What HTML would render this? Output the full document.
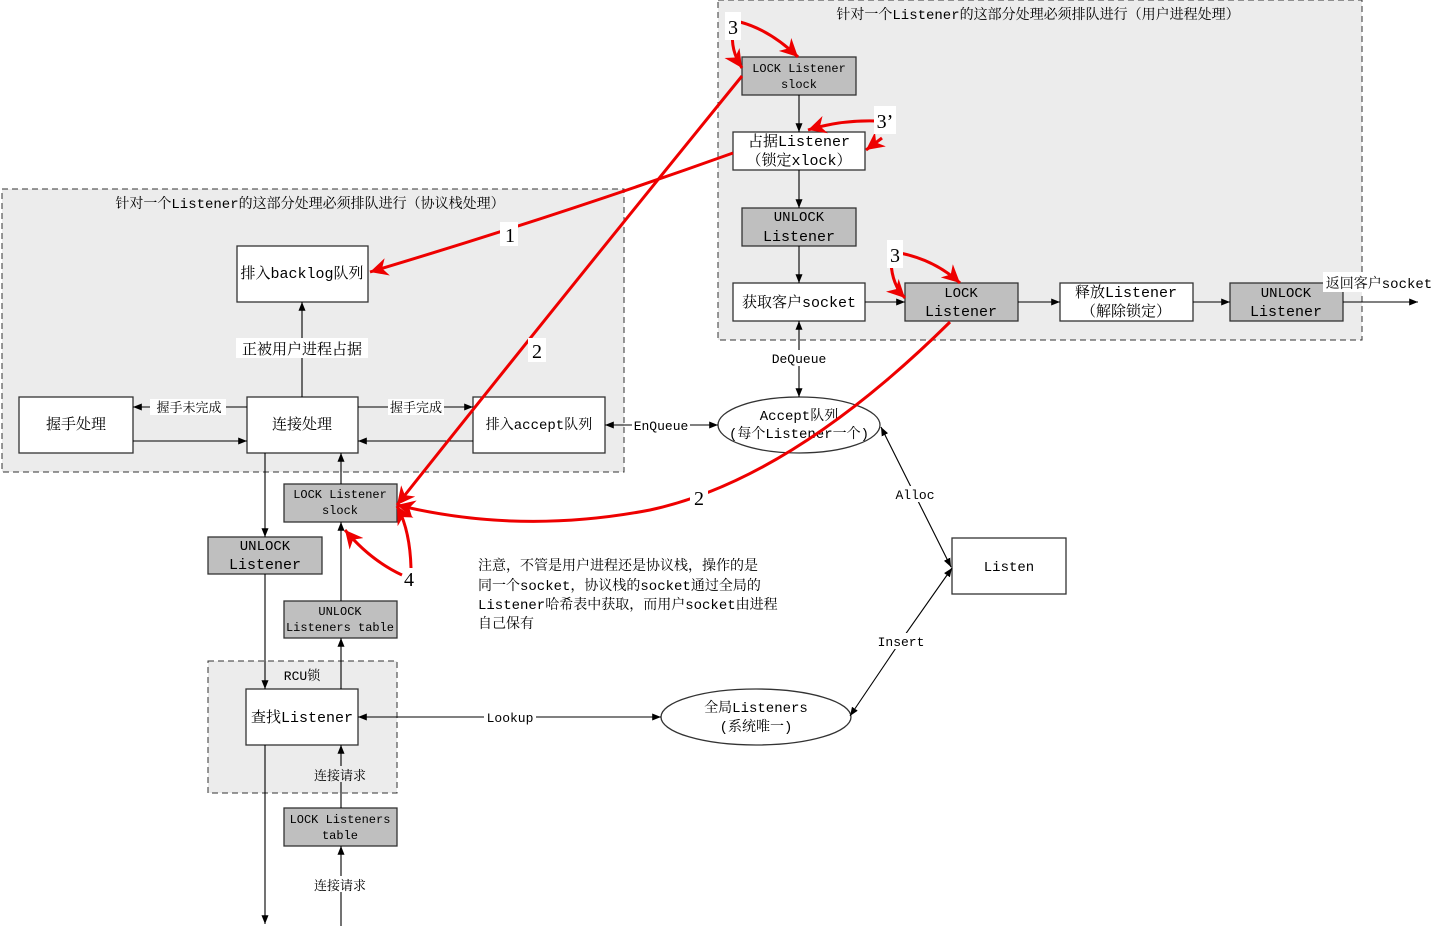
<!DOCTYPE html>
<html><head><meta charset="utf-8"><style>
html,body{margin:0;padding:0;background:#fff;}
svg{display:block;font-family:"Liberation Mono","Noto Serif CJK SC",serif;}
</style></head><body>
<svg width="1436" height="926" viewBox="0 0 1436 926" xmlns="http://www.w3.org/2000/svg">
<defs>
<marker id="a" viewBox="0 0 10 10" refX="10" refY="5" markerWidth="8" markerHeight="8" orient="auto-start-reverse"><path d="M0,1 L10,5 L0,9 z" fill="#000"/></marker>
<marker id="r" viewBox="0 0 10 10" refX="10" refY="5" markerWidth="6" markerHeight="6" orient="auto-start-reverse"><path d="M0,0 L10,5 L0,10 L3,5 z" fill="#e00"/></marker>
</defs>
<!-- regions -->
<rect x="718" y="0" width="644" height="340" fill="#ececec" stroke="#333" stroke-dasharray="6,4"/>
<rect x="2" y="189" width="622" height="283" fill="#ececec" stroke="#333" stroke-dasharray="6,4"/>
<rect x="208" y="661" width="189" height="132" fill="#ececec" stroke="#333" stroke-dasharray="6,4"/>
<g font-size="14" text-anchor="middle" fill="#000">
<text x="1038" y="19">针对一个Listener的这部分处理必须排队进行（用户进程处理）</text>
<text x="310" y="208">针对一个Listener的这部分处理必须排队进行（协议栈处理）</text>
<text x="302" y="680" font-size="13">RCU锁</text>
</g>
<!-- boxes -->
<g stroke="#333" stroke-width="1.3">
<rect x="742" y="57" width="114" height="38" fill="#bfbfbf"/>
<rect x="733" y="132" width="132" height="38" fill="#fff"/>
<rect x="742" y="208" width="114" height="38" fill="#bfbfbf"/>
<rect x="733" y="283" width="132" height="38" fill="#fff"/>
<rect x="905" y="283" width="113" height="38" fill="#bfbfbf"/>
<rect x="1060" y="283" width="133" height="38" fill="#fff"/>
<rect x="1230" y="283" width="113" height="38" fill="#bfbfbf"/>
<rect x="237" y="246" width="131" height="56" fill="#fff"/>
<rect x="19" y="397" width="114" height="56" fill="#fff"/>
<rect x="247" y="397" width="111" height="56" fill="#fff"/>
<rect x="473" y="397" width="132" height="56" fill="#fff"/>
<rect x="284" y="484" width="113" height="38" fill="#bfbfbf"/>
<rect x="208" y="537" width="114" height="37" fill="#bfbfbf"/>
<rect x="284" y="601" width="113" height="37" fill="#bfbfbf"/>
<rect x="246" y="689" width="112" height="56" fill="#fff"/>
<rect x="284" y="808" width="113" height="38" fill="#bfbfbf"/>
<rect x="952" y="538" width="114" height="56" fill="#fff"/>
<ellipse cx="799" cy="425" rx="81" ry="28" fill="#fff"/>
<ellipse cx="756" cy="717" rx="95" ry="28" fill="#fff"/>
</g>
<!-- black connectors -->
<g stroke="#000" stroke-width="1.1" fill="none" marker-end="url(#a)">
<line x1="799" y1="95" x2="799" y2="132"/>
<line x1="799" y1="170" x2="799" y2="208"/>
<line x1="799" y1="246" x2="799" y2="283"/>
<line x1="865" y1="302" x2="905" y2="302"/>
<line x1="1018" y1="302" x2="1060" y2="302"/>
<line x1="1193" y1="302" x2="1230" y2="302"/>
<line x1="1343" y1="302" x2="1418" y2="302"/>
<line x1="799" y1="360" x2="799" y2="321"/>
<line x1="799" y1="360" x2="799" y2="397"/>
<line x1="302" y1="397" x2="302" y2="302"/>
<line x1="247" y1="407" x2="133" y2="407"/>
<line x1="133" y1="441" x2="247" y2="441"/>
<line x1="358" y1="407" x2="473" y2="407"/>
<line x1="473" y1="441" x2="358" y2="441"/>
<line x1="660" y1="425" x2="605" y2="425"/>
<line x1="660" y1="425" x2="718" y2="425"/>
<line x1="265" y1="453" x2="265" y2="537"/>
<line x1="265" y1="574" x2="265" y2="689"/>
<line x1="265" y1="745" x2="265" y2="924"/>
<line x1="341" y1="926" x2="341" y2="846"/>
<line x1="341" y1="808" x2="341" y2="745"/>
<line x1="341" y1="689" x2="341" y2="638"/>
<line x1="341" y1="601" x2="341" y2="522"/>
<line x1="341" y1="484" x2="341" y2="453"/>
<line x1="510" y1="717" x2="358" y2="717"/>
<line x1="510" y1="717" x2="661" y2="717"/>
<line x1="915" y1="495" x2="881" y2="427"/>
<line x1="915" y1="495" x2="951" y2="567"/>
<line x1="900" y1="642" x2="952" y2="568"/>
<line x1="900" y1="642" x2="850" y2="716"/>
</g>
<!-- labels on lines -->
<g font-size="13" text-anchor="middle" fill="#000">
<rect x="768" y="350" width="62" height="16" fill="#fff"/><text x="799" y="363">DeQueue</text>
<rect x="632" y="417" width="58" height="16" fill="#fff"/><text x="661" y="430">EnQueue</text>
<rect x="484" y="709" width="52" height="16" fill="#fff"/><text x="510" y="722">Lookup</text>
<rect x="893" y="486" width="44" height="16" fill="#fff"/><text x="915" y="499">Alloc</text>
<rect x="876" y="633" width="50" height="16" fill="#fff"/><text x="901" y="646">Insert</text>
<rect x="150" y="399" width="76" height="16" fill="#fff"/><text x="189" y="412">握手未完成</text>
<rect x="388" y="399" width="56" height="16" fill="#fff"/><text x="416" y="412">握手完成</text>
<rect x="236" y="338" width="132" height="20" fill="#fff"/><text x="302" y="354" font-size="15">正被用户进程占据</text>
<rect x="310" y="766" width="60" height="16" fill="#ececec"/><text x="340" y="780">连接请求</text>
<rect x="310" y="876" width="60" height="16" fill="#fff"/><text x="340" y="890">连接请求</text>
</g>
<!-- box texts -->
<g font-size="15" text-anchor="middle" fill="#000">
<text x="799" y="72" font-size="12">LOCK Listener</text><text x="799" y="88" font-size="12">slock</text>
<text x="799" y="146">占据Listener</text><text x="799" y="165">（锁定xlock）</text>
<text x="799" y="221" font-size="14">UNLOCK</text><text x="799" y="241">Listener</text>
<text x="799" y="307">获取客户socket</text>
<text x="961" y="297" font-size="14">LOCK</text><text x="961" y="316">Listener</text>
<text x="1126" y="297">释放Listener</text><text x="1126" y="316">（解除锁定）</text>
<text x="1286" y="297" font-size="14">UNLOCK</text><text x="1286" y="316">Listener</text>
<rect x="1323" y="272" width="113" height="20" fill="#fff"/><text x="1379" y="288" font-size="14">返回客户socket</text>
<text x="302" y="278">排入backlog队列</text>
<text x="76" y="429">握手处理</text>
<text x="302" y="429">连接处理</text>
<text x="539" y="429" font-size="14">排入accept队列</text>
<text x="340" y="498" font-size="12">LOCK Listener</text><text x="340" y="514" font-size="12">slock</text>
<text x="265" y="550" font-size="14">UNLOCK</text><text x="265" y="569">Listener</text>
<text x="340" y="615" font-size="12">UNLOCK</text><text x="340" y="631" font-size="12">Listeners table</text>
<text x="302" y="722">查找Listener</text>
<text x="340" y="823" font-size="12">LOCK Listeners</text><text x="340" y="839" font-size="12">table</text>
<text x="1009" y="571" font-size="14">Listen</text>
<text x="799" y="420" font-size="14">Accept队列</text><text x="799" y="438" font-size="14">(每个Listener一个)</text>
<text x="756" y="712" font-size="14">全局Listeners</text><text x="756" y="731" font-size="14">(系统唯一)</text>
</g>
<g font-size="14" fill="#000">
<text x="478" y="570">注意，不管是用户进程还是协议栈，操作的是</text>
<text x="478" y="590">同一个socket，协议栈的socket通过全局的</text>
<text x="478" y="609">Listener哈希表中获取，而用户socket由进程</text>
<text x="478" y="628">自己保有</text>
</g>
<!-- red arrows -->
<g stroke="#e00" stroke-width="3" fill="none" marker-end="url(#r)">
<path d="M733,153 Q560,215 370,272"/>
<path d="M742,76 Q560,300 397,505"/>
<path d="M950,322 Q790,480 650,510 Q520,535 397,505"/>
<path d="M740,22 Q770,30 798,57"/>
<path d="M733,30 Q730,50 742,68"/>
<path d="M876,121 Q840,120 808,130"/>
<path d="M882,138 L866,150"/>
<path d="M900,253 Q935,260 960,283"/>
<path d="M891,262 Q892,285 905,298"/>
<path d="M411,568 Q410,530 397,506"/>
<path d="M402,575 Q370,560 345,530"/>
</g>
<g font-size="20" text-anchor="middle" fill="#000" font-family="Liberation Serif, serif">
<rect x="500" y="222" width="18" height="24" fill="#fff"/><text x="510" y="242">1</text>
<rect x="528" y="338" width="18" height="24" fill="#fff"/><text x="537" y="358">2</text>
<rect x="690" y="485" width="18" height="24" fill="#fff"/><text x="699" y="505">2</text>
<rect x="725" y="12" width="16" height="28" fill="#fff"/><text x="733" y="34">3</text>
<rect x="874" y="106" width="22" height="28" fill="#fff"/><text x="885" y="128">3’</text>
<rect x="887" y="240" width="16" height="28" fill="#fff"/><text x="895" y="262">3</text>
<text x="409" y="586">4</text>
</g>
</svg>
</body></html>
